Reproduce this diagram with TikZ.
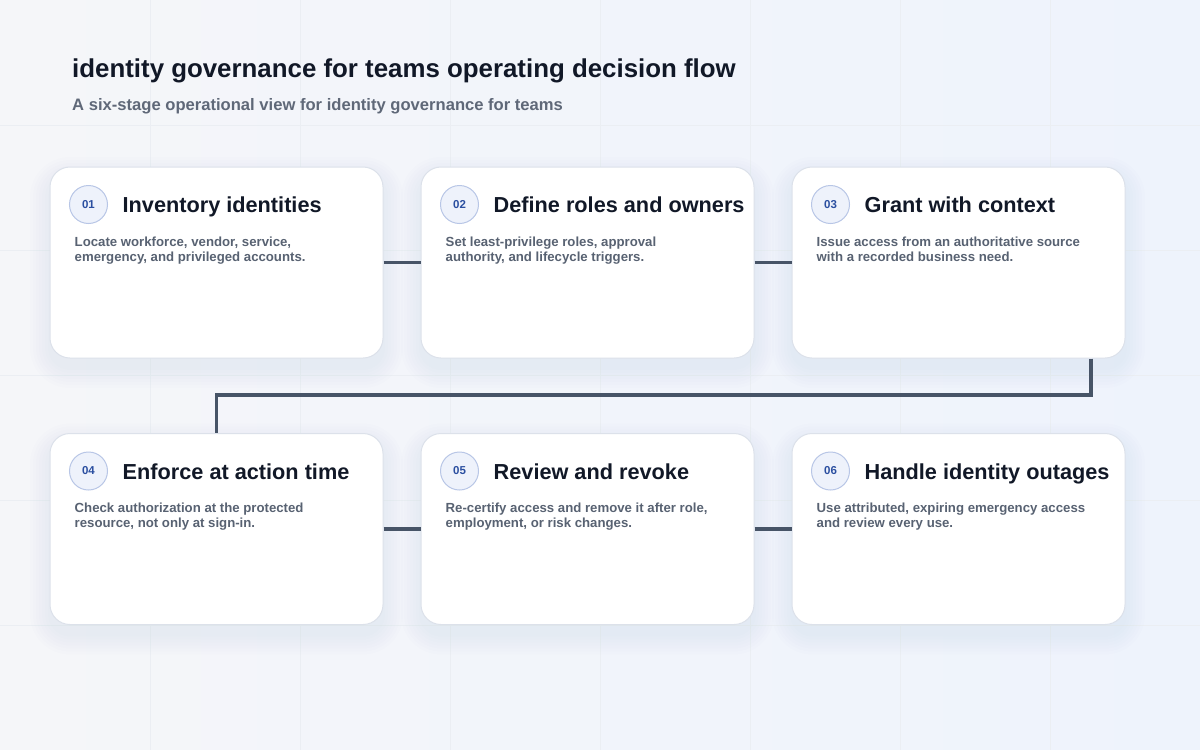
\documentclass[tikz,border=0pt]{standalone}
\usepackage{fontspec}
\setmainfont{Liberation Sans}
\usetikzlibrary{calc}
\definecolor{bgA}{HTML}{F5F6F9}
\definecolor{bgB}{HTML}{EEF3FC}
\definecolor{gridc}{HTML}{EBEEF3}
\definecolor{cardline}{HTML}{DCE1EA}
\definecolor{ink}{HTML}{111827}
\definecolor{sub}{HTML}{5F6878}
\definecolor{desc}{HTML}{586272}
\definecolor{conn}{HTML}{475467}
\definecolor{badgefill}{HTML}{EEF2FB}
\definecolor{badgeline}{HTML}{B8C6E6}
\definecolor{badgetext}{HTML}{2B4FA0}
\definecolor{shadowc}{HTML}{64708A}
\tikzset{
  card/.style={draw=cardline, line width=1pt, fill=white, rounded corners=20pt,
    minimum width=333pt, minimum height=191pt, inner sep=0pt},
  badge/.style={circle, draw=badgeline, line width=1pt, fill=badgefill, minimum size=38pt,
    inner sep=0pt, text=badgetext, font=\fontsize{11.5}{12}\selectfont\bfseries},
  ctitle/.style={anchor=base west, inner sep=0pt, text=ink, font=\fontsize{21.7}{24}\selectfont\bfseries},
  cdesc/.style={anchor=north west, inner sep=0pt, text=desc, align=left,
    font=\fontsize{13.2}{15}\selectfont\bfseries},
  link/.style={draw=conn, line width=3.5pt},
}
\begin{document}
\begin{tikzpicture}[x=1pt,y=-1pt]
\useasboundingbox (0,0) rectangle (1200,750);
\shade[left color=bgA, right color=bgB] (0,0) rectangle (1200,750);
\foreach \gx in {150,300,...,1050} \draw[gridc, line width=0.5pt] (\gx,0) -- (\gx,750);
\foreach \gy in {125,250,...,625} \draw[gridc, line width=0.5pt] (0,\gy) -- (1200,\gy);

\node[anchor=base west, inner sep=0pt, text=ink, font=\fontsize{25.85}{30}\selectfont\bfseries] (title) at (72,77) {identity governance for teams operating decision flow};
\node[anchor=base west, inner sep=0pt, text=sub, font=\fontsize{16.6}{18}\selectfont\bfseries] (subtitle) at (72,110) {A six-stage operational view for identity governance for teams};

% shadows
\foreach \cx/\cy in {216.5/262.5, 587.5/262.5, 958.5/262.5, 216.5/529, 587.5/529, 958.5/529} {
  \foreach \s in {2,5,...,20} {
    \fill[shadowc, opacity=0.008, rounded corners=20pt+\s pt]
      (\cx-166.5-\s, \cy-95.5-\s+10) rectangle (\cx+166.5+\s, \cy+95.5+\s+10);
  }
}

\node[card] (c1) at (216.5,262.5) {};
\node[card] (c2) at (587.5,262.5) {};
\node[card] (c3) at (958.5,262.5) {};
\node[card] (c4) at (216.5,529) {};
\node[card] (c5) at (587.5,529) {};
\node[card] (c6) at (958.5,529) {};

% connectors
\draw[link] (c1.east) -- (c2.west);
\draw[link] (c2.east) -- (c3.west);
\coordinate (turn) at (1091,395);
\draw[link] (c3.south -| turn) -- (turn) -| (c4.north);
\draw[link] (c4.east) -- (c5.west);
\draw[link] (c5.east) -- (c6.west);

% card contents
\foreach \n/\num/\ttl/\dsc in {
  c1/01/{Inventory identities}/{Locate workforce, vendor, service,\\emergency, and privileged accounts.},
  c2/02/{Define roles and owners}/{Set least-privilege roles, approval\\authority, and lifecycle triggers.},
  c3/03/{Grant with context}/{Issue access from an authoritative source\\with a recorded business need.},
  c4/04/{Enforce at action time}/{Check authorization at the protected\\resource, not only at sign-in.},
  c5/05/{Review and revoke}/{Re-certify access and remove it after role,\\employment, or risk changes.},
  c6/06/{Handle identity outages}/{Use attributed, expiring emergency access\\and review every use.}} {
  \node[badge] (\n b) at ($(\n.north west)+(39,38)$) {\num};
  \node[ctitle] (\n t) at ($(\n.north west)+(73,46)$) {\ttl};
  \node[cdesc] (\n d) at ($(\n.north west)+(25,70)$) {\dsc};
}
\end{tikzpicture}
\end{document}
